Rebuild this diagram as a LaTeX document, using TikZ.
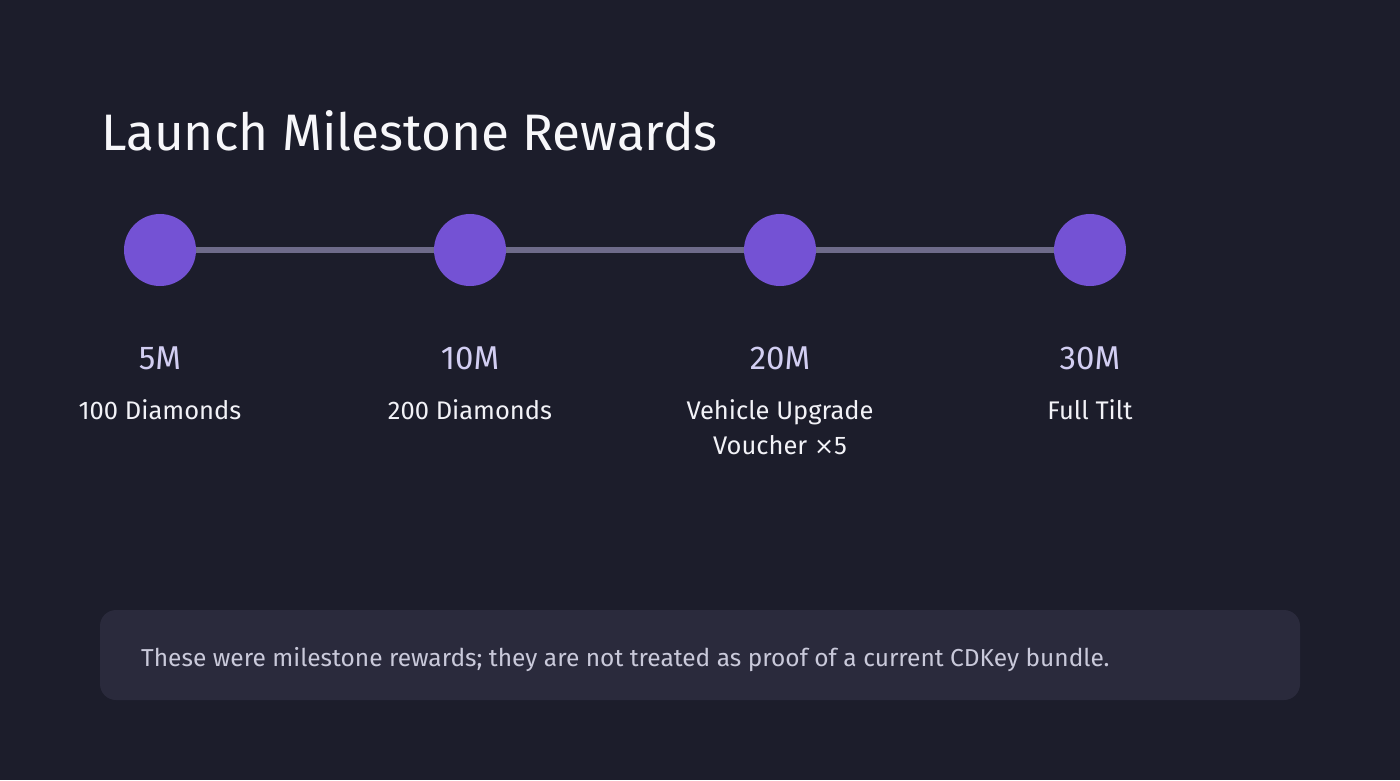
\documentclass[tikz,border=0pt]{standalone}
\usepackage{fontspec}
\setmainfont{Fira Sans}
\newfontfamily\symfont{DejaVu Sans}
\definecolor{bg}{HTML}{1C1D2B}
\definecolor{dot}{HTML}{7452D4}
\definecolor{track}{HTML}{6E6B8A}
\definecolor{panel}{HTML}{2A2A3C}
\definecolor{titlec}{HTML}{F7F7FA}
\definecolor{valc}{HTML}{D2CEF2}
\definecolor{rewc}{HTML}{F2F2F7}
\definecolor{notec}{HTML}{C9C9DA}
\tikzset{
  milestone/.style={circle,fill=dot,minimum size=72pt,inner sep=0pt},
  trackline/.style={draw=track,line width=6pt},
  valtext/.style={text=valc,font=\fontsize{33}{38}\selectfont,anchor=base,inner sep=0pt},
  rewtext/.style={text=rewc,font=\fontsize{25.5}{35}\selectfont,align=center,anchor=base,inner sep=0pt},
}
\begin{document}
\begin{tikzpicture}[x=1pt,y=-1pt]
\useasboundingbox (0,0) rectangle (1400,780);
\fill[bg] (0,0) rectangle (1400,780);
\node[anchor=base west,inner sep=0pt,text=titlec,font=\fontsize{51.3}{56}\selectfont] (title) at (101,150) {Launch Milestone Rewards};
\node[milestone] (m1) at (160,250) {};
\node[milestone] (m2) at (470,250) {};
\node[milestone] (m3) at (780,250) {};
\node[milestone] (m4) at (1090,250) {};
\draw[trackline] (m1.east) -- (m2.west);
\draw[trackline] (m2.east) -- (m3.west);
\draw[trackline] (m3.east) -- (m4.west);
\node[valtext] (v1) at (160,369) {5M};
\node[valtext] (v2) at (470,369) {10M};
\node[valtext] (v3) at (780,369) {20M};
\node[valtext] (v4) at (1090,369) {30M};
\node[rewtext] (r1) at (160,419) {100 Diamonds};
\node[rewtext] (r2) at (470,419) {200 Diamonds};
\node[rewtext] (r3) at (780,454) {Vehicle Upgrade\\Voucher {\symfont\fontsize{24}{35}\selectfont ×}5};
\node[rewtext] (r4) at (1090,419) {Full Tilt};
\fill[panel,rounded corners=16pt] (100,610) rectangle (1300,700);
\node[anchor=base west,inner sep=0pt,text=notec,font=\fontsize{24.5}{28}\selectfont] (note) at (141,666) {These were milestone rewards; they are not treated as proof of a current CDKey bundle.};
\end{tikzpicture}
\end{document}
